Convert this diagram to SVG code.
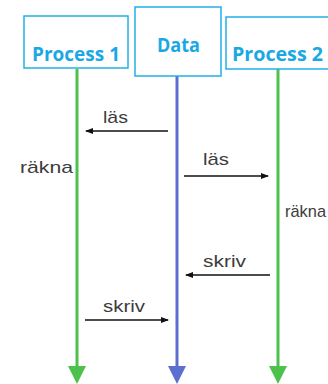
<svg xmlns="http://www.w3.org/2000/svg" width="328" height="384" viewBox="0 0 328 384">
<defs>
<style>
.box{fill:#fff;stroke:#22b0e8;stroke-width:1.5}
.title{font-family:"Open Sans","Liberation Sans",sans-serif;font-weight:bold;fill:#1aa8e4;font-size:19px}
.lbl{font-family:"Liberation Sans",Arial,sans-serif;font-size:17px;fill:#3c3c3c}
.msg{stroke:#111;stroke-width:1.5;fill:none;marker-end:url(#ah)}
.life{stroke-width:3;fill:none}
</style>
<marker id="ah" markerWidth="8" markerHeight="8" refX="7" refY="4" orient="auto" markerUnits="userSpaceOnUse">
<path d="M0,1 L8,4 L0,7 Z" fill="#111"/>
</marker>
</defs>
<rect width="328" height="384" fill="#fff"/>
<g id="connectors">
<line class="life" x1="77" y1="69" x2="77" y2="368" stroke="#4cc24c"/>
<path d="M68,366 L86,366 L77,384 Z" fill="#4cc24c"/>
<line class="life" x1="177" y1="76" x2="177" y2="368" stroke="#5b6fd0"/>
<path d="M168,366 L186,366 L177,384 Z" fill="#5b6fd0"/>
<line class="life" x1="278" y1="69" x2="278" y2="368" stroke="#4cc24c"/>
<path d="M269,366 L287,366 L278,384 Z" fill="#4cc24c"/>
<line class="msg" x1="168" y1="131" x2="86" y2="131"/>
<line class="msg" x1="184" y1="176" x2="268" y2="176"/>
<line class="msg" x1="270" y1="275" x2="186" y2="275"/>
<line class="msg" x1="85" y1="320" x2="168" y2="320"/>
</g>
<g id="process1">
<rect class="box" x="24" y="16" width="104" height="52"/>
<text class="title" x="32" y="61" textLength="88" lengthAdjust="spacingAndGlyphs">Process 1</text>
</g>
<g id="data">
<rect class="box" x="135" y="7" width="86" height="69"/>
<text class="title" x="157" y="52" textLength="43" lengthAdjust="spacingAndGlyphs">Data</text>
</g>
<g id="process2">
<rect class="box" x="226" y="17" width="106" height="52"/>
<text class="title" x="232" y="61" textLength="91" lengthAdjust="spacingAndGlyphs">Process 2</text>
</g>
<g id="labels">
<text class="lbl" x="103" y="123" textLength="25" lengthAdjust="spacingAndGlyphs">läs</text>
<text class="lbl" x="20" y="173" textLength="53" lengthAdjust="spacingAndGlyphs">räkna</text>
<text class="lbl" x="203" y="165" textLength="26" lengthAdjust="spacingAndGlyphs">läs</text>
<text class="lbl" x="285" y="217" textLength="41" lengthAdjust="spacingAndGlyphs">räkna</text>
<text class="lbl" x="203" y="267" textLength="43" lengthAdjust="spacingAndGlyphs">skriv</text>
<text class="lbl" x="103" y="312" textLength="42" lengthAdjust="spacingAndGlyphs">skriv</text>
</g>
</svg>
